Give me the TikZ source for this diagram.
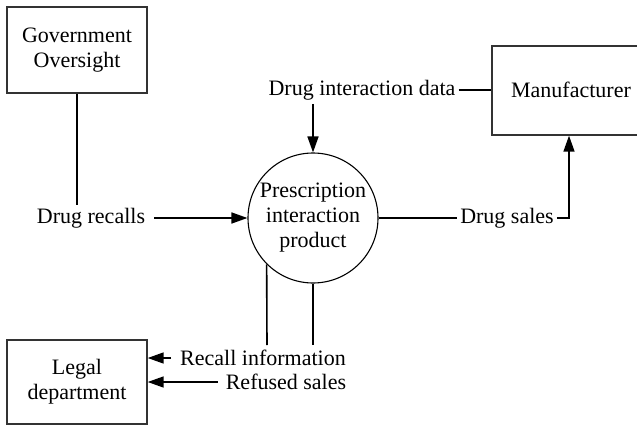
\documentclass[tikz,border=0pt]{standalone}
\usepackage{fontspec}
\setmainfont{Liberation Serif}
\usetikzlibrary{arrows.meta}
\begin{document}
\begin{tikzpicture}[x=1pt,y=-1pt,
  every node/.style={font=\fontsize{22}{25}\selectfont, align=center},
  entity/.style={draw=black!80, line width=1.4pt, inner sep=0pt},
  process/.style={draw, circle, line width=1.1pt, minimum size=130pt, inner sep=0pt},
  lbl/.style={inner sep=3pt},
  flow/.style={line width=1.6pt},
  arr/.style={flow, -{Triangle[length=16pt,width=11pt]}}]
\useasboundingbox (0,0) rectangle (637,425);

% external entities
\node[entity, minimum width=140pt, minimum height=86pt] (gov) at (77,50) {Government\\Oversight};
\node[entity, minimum width=140pt, minimum height=84pt] (legal) at (77,382) {Legal\\department};
\begin{scope}
\clip (0,0) rectangle (637,425);
\node[entity, minimum width=160pt, minimum height=89pt] (man) at (572,90.5) {};
\end{scope}
\node (mantext) at (571,90) {Manufacturer};

% process
\node[process] (proc) at (313,218) {Prescription\\interaction\\product};

% flow labels
\node[lbl] (recalls) at (91,218) {Drug recalls};
\node[lbl] (data) at (362,90) {Drug interaction data};
\node[lbl] (sales) at (507,218) {Drug sales};
\node[lbl] (recinfo) at (263,358) {Recall information};
\node[lbl] (refused) at (286,382) {Refused sales};

\coordinate (govend) at (77,205);
\coordinate (datadown) at (313,104);
\coordinate (salesbend) at (569,218);
\coordinate (downA) at (267,345);
\coordinate (downB) at (313,345);

% flows
\draw[flow] (gov.south) -- (govend);
\draw[arr] (recalls.east) ++(6,0) -- (proc.west);
\draw[flow] (data.east) -- (data.east -| man.west);
\draw[arr] (datadown) -- (proc.north);
\draw[flow] (proc.east) -- (sales.west);
\draw[arr] (sales.east) -- (salesbend) -- (salesbend |- man.south);
\draw[flow] (proc.south west) -- (downA);
\draw[flow] (proc.south) -- (downB);
\draw[arr] (recinfo.west) ++(-6,0) -- (recinfo.west -| legal.east);
\draw[arr] (refused.west) ++(-5,0) -- (refused.west -| legal.east);
\end{tikzpicture}
\end{document}
